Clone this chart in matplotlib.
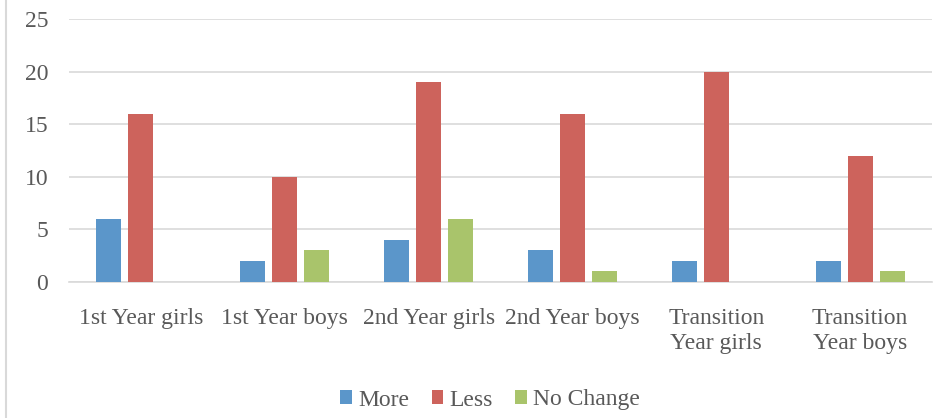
import numpy as np
import matplotlib.pyplot as plt
from matplotlib.lines import Line2D

plt.rcParams['font.family'] = ['Liberation Serif', 'DejaVu Serif']

categories = ['1st Year girls', '1st Year boys', '2nd Year girls', '2nd Year boys',
              'Transition\nYear girls', 'Transition\nYear boys']
series_names = ['More', 'Less', 'No Change']
more = [6, 2, 4, 3, 2, 2]
less = [16, 10, 19, 16, 20, 12]
no_change = [0, 3, 6, 1, 0, 1]
colors = ['#5B96CA', '#CD635C', '#A9C46B']

W, H = 933, 418
fig = plt.figure(figsize=(W / 100, H / 100), dpi=100)
ax = fig.add_axes([69 / W, 1 - 282 / H, (932 - 69) / W, (282 - 19) / H])

x = np.arange(len(categories))
width = 0.174
step = 0.222
for i, (vals, name) in enumerate(zip([more, less, no_change], series_names)):
    ax.bar(x + (i - 1) * step, vals, width, color=colors[i], label=name, zorder=3)

fs = 17
ax.set_xlim(-0.5, len(categories) - 0.5)
ax.set_ylim(0, 25)
ax.set_yticks(range(0, 26, 5))
ax.yaxis.grid(True, color='#D9D9D9', linewidth=1.2, zorder=0)
for s in ['top', 'right', 'left']:
    ax.spines[s].set_visible(False)
ax.spines['bottom'].set_color('#D9D9D9')
ax.spines['bottom'].set_linewidth(1.2)
ax.tick_params(axis='both', length=0, labelsize=fs, colors='#595959')
ax.tick_params(axis='y', pad=15)
ax.tick_params(axis='x', pad=19)
ax.set_xticks(x)
ax.set_xticklabels(categories, linespacing=1.25)

# chart border on the left
fig.add_artist(Line2D([6 / W, 6 / W], [0, 1], color='#D9D9D9', linewidth=1.5))

leg = fig.legend(loc='center', bbox_to_anchor=(490 / W, 1 - 400 / H), ncol=3, frameon=False,
                 fontsize=fs, handlelength=0.5, handleheight=0.5, handletextpad=0.25,
                 columnspacing=0.95)
for t in leg.get_texts():
    t.set_color('#595959')

fig.savefig('out.png', dpi=100)
